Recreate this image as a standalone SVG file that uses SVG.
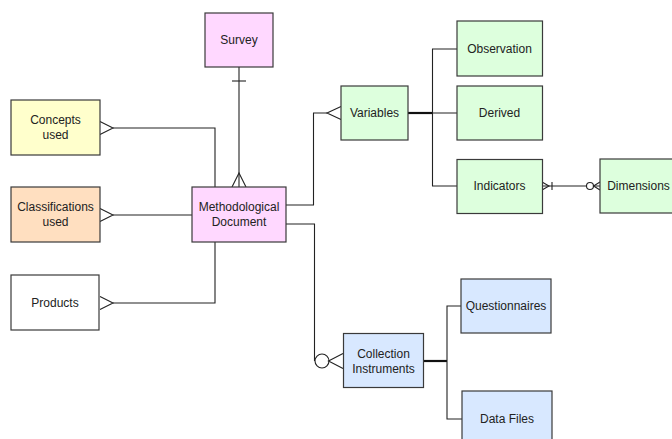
<svg xmlns="http://www.w3.org/2000/svg" width="672" height="439" viewBox="0 0 672 439">
<style>
.b{stroke:#3a3a3a;stroke-width:1.2}
.t{font-family:"Liberation Sans",Arial,sans-serif;font-size:12px;fill:#222;text-anchor:middle}
.c{fill:none;stroke:#222;stroke-width:1.1}
.k{fill:none;stroke:#111;stroke-width:2.2}
.pink{fill:#FFD8FF}.yel{fill:#FFFFCC}.peach{fill:#FFDFC0}.white{fill:#FFFFFF}.green{fill:#DDFFDD}.blue{fill:#D8E8FF}
</style>
<rect width="672" height="439" fill="#fff"/>
<g id="connectors">
<path class="c" d="M239,67 V187"/>
<path class="c" d="M232,81 H246"/>
<path class="c" d="M232,187 L239,173 L246,187"/>
<path class="c" d="M113,128 H215 V187"/>
<path class="c" d="M100,121.5 L113,128 L100,134.5"/>
<path class="c" d="M113,215 H192"/>
<path class="c" d="M100,208.5 L113,215 L100,221.5"/>
<path class="c" d="M113,303 H215 V242"/>
<path class="c" d="M100,296.5 L113,303 L100,309.5"/>
<path class="c" d="M286,205 H313.5 V113 H327"/>
<path class="c" d="M341,106.5 L327,113 L341,119.5"/>
<path class="k" d="M408,113 H432"/>
<path class="c" d="M457,49 H432.5 V186 H457 M432,113 H457"/>
<path class="c" d="M542,186 H600"/>
<path class="c" d="M542,182 L549,186 L542,190"/>
<path class="c" d="M552,182 V190"/>
<circle cx="590" cy="186" r="3.5" fill="#fff" stroke="#222" stroke-width="1.1"/>
<path class="c" d="M600,182 L593.5,186 L600,190"/>
<path class="c" d="M286,224 H314.5 V361"/>
<circle cx="322" cy="361" r="7" fill="#fff" stroke="#222" stroke-width="1.1"/>
<path class="c" d="M343,353.5 L328.5,361 L343,368.5"/>
<path class="k" d="M423,361 H447"/>
<path class="c" d="M461,306 H447 V419 H462"/>
</g>
<g id="survey"><rect class="b pink" x="205" y="13" width="68" height="54"/><text class="t" x="239" y="44">Survey</text></g>
<g id="concepts"><rect class="b yel" x="11" y="100" width="89" height="55"/><text class="t" x="55.5" y="123.5">Concepts</text><text class="t" x="55.5" y="138.5">used</text></g>
<g id="classifications"><rect class="b peach" x="11" y="187" width="89" height="55"/><text class="t" x="55.5" y="210.5">Classifications</text><text class="t" x="55.5" y="225.5">used</text></g>
<g id="products"><rect class="b white" x="11" y="275" width="88" height="55"/><text class="t" x="55" y="306.5">Products</text></g>
<g id="methodological"><rect class="b pink" x="192" y="187" width="94" height="55"/><text class="t" x="239" y="210.5">Methodological</text><text class="t" x="239" y="225.5">Document</text></g>
<g id="variables"><rect class="b green" x="341" y="86" width="67" height="54"/><text class="t" x="374.5" y="117">Variables</text></g>
<g id="observation"><rect class="b green" x="457" y="21" width="85.5" height="55"/><text class="t" x="499.5" y="52.5">Observation</text></g>
<g id="derived"><rect class="b green" x="457" y="86" width="85.5" height="54"/><text class="t" x="499.5" y="117">Derived</text></g>
<g id="indicators"><rect class="b green" x="457" y="159.5" width="85.5" height="54"/><text class="t" x="499.5" y="190">Indicators</text></g>
<g id="dimensions"><rect class="b green" x="600" y="159" width="86" height="54"/><text class="t" x="638.5" y="190">Dimensions</text></g>
<g id="collection"><rect class="b blue" x="343.5" y="333.5" width="80" height="54"/><text class="t" x="383.5" y="357.5">Collection</text><text class="t" x="383.5" y="372.5">Instruments</text></g>
<g id="questionnaires"><rect class="b blue" x="461" y="279" width="90" height="54"/><text class="t" x="506" y="310">Questionnaires</text></g>
<g id="datafiles"><rect class="b blue" x="462" y="391" width="90" height="54"/><text class="t" x="507" y="422.5">Data Files</text></g>
</svg>
